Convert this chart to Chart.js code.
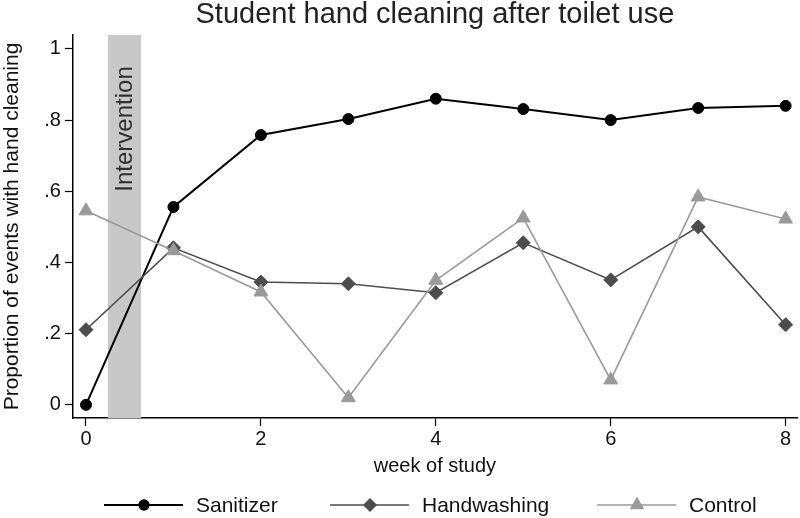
<!DOCTYPE html>
<html>
<head>
<meta charset="utf-8">
<script src="https://cdn.jsdelivr.net/npm/chart.js@4"></script>
<style>
  html, body { margin: 0; padding: 0; background: #fff; }
  #wrap { width: 800px; height: 518px; }
</style>
</head>
<body>
<div id="wrap"><canvas id="chart" width="800" height="518"></canvas></div>
<script>
const weeks = [0, 1, 2, 3, 4, 5, 6, 7, 8];
const sanitizer = [0, 0.556, 0.758, 0.803, 0.86, 0.831, 0.8, 0.834, 0.84];
const handwashing = [0.211, 0.441, 0.345, 0.34, 0.315, 0.455, 0.351, 0.5, 0.225];
const control = [0.545, 0.433, 0.317, 0.02, 0.35, 0.525, 0.07, 0.584, 0.522];
const seriesNames = ["Sanitizer", "Handwashing", "Control"];
const xTicks = [0, 2, 4, 6, 8];
const yTicks = [0, 0.2, 0.4, 0.6, 0.8, 1];
const yTickLabels = ["0", ".2", ".4", ".6", ".8", "1"];
const interventionStart = 0.25;
const interventionEnd = 0.63;
const interventionLabel = "Intervention";

const FONT = "'Liberation Sans', Arial, Helvetica, sans-serif";
const toPoints = (vals) => weeks.map((w, i) => ({ x: w, y: vals[i] }));

// grey band + rotated label behind the lines
const interventionBand = {
  id: "interventionBand",
  beforeDatasetsDraw(chart) {
    const { ctx, chartArea, scales } = chart;
    const x0 = scales.x.getPixelForValue(interventionStart);
    const x1 = scales.x.getPixelForValue(interventionEnd);
    ctx.save();
    ctx.fillStyle = "#c8c8c8";
    ctx.fillRect(x0, chartArea.top, x1 - x0, chartArea.bottom - chartArea.top);
    ctx.translate((x0 + x1) / 2, scales.y.getPixelForValue(0.775));
    ctx.rotate(-Math.PI / 2);
    ctx.fillStyle = "#2e2e2e";
    ctx.font = "24px " + FONT;
    ctx.textAlign = "center";
    ctx.textBaseline = "middle";
    ctx.fillText(interventionLabel, 0, 1);
    ctx.restore();
  }
};

// stata-style legend: line with marker in the middle, in series order
const lineLegend = {
  id: "lineLegend",
  afterDraw(chart) {
    const { ctx } = chart;
    const starts = [104, 330, 597];
    const y = 505;
    ctx.save();
    seriesNames.forEach((name, i) => {
      const ds = chart.data.datasets.find(d => d.label === name);
      const lx = starts[i];
      ctx.strokeStyle = ds.borderColor;
      ctx.lineWidth = ds.borderWidth;
      ctx.beginPath();
      ctx.moveTo(lx, y);
      ctx.lineTo(lx + 79, y);
      ctx.stroke();
      ctx.fillStyle = ds.pointBackgroundColor;
      ctx.strokeStyle = ds.pointBackgroundColor;
      Chart.helpers.drawPoint(ctx, {
        pointStyle: ds.pointStyle,
        radius: ds.pointRadius * 0.85,
        rotation: 0,
        borderWidth: 1
      }, lx + 40, y);
      ctx.fillStyle = "#111";
      ctx.font = "21px " + FONT;
      ctx.textAlign = "left";
      ctx.textBaseline = "middle";
      ctx.fillText(name, lx + 92, y + 1);
    });
    ctx.restore();
  }
};

// control drawn first, sanitizer on top
new Chart(document.getElementById("chart"), {
  type: "line",
  data: {
    datasets: [
      {
        label: seriesNames[2],
        data: toPoints(control),
        borderColor: "#9a9a9a",
        borderWidth: 1.6,
        pointStyle: "triangle",
        pointRadius: 8,
        pointBackgroundColor: "#9a9a9a",
        pointBorderColor: "#9a9a9a",
        pointBorderWidth: 1
      },
      {
        label: seriesNames[1],
        data: toPoints(handwashing),
        borderColor: "#4d4d4d",
        borderWidth: 1.6,
        pointStyle: "rectRot",
        pointRadius: 7,
        pointBackgroundColor: "#4d4d4d",
        pointBorderColor: "#4d4d4d",
        pointBorderWidth: 1
      },
      {
        label: seriesNames[0],
        data: toPoints(sanitizer),
        borderColor: "#000",
        borderWidth: 2,
        pointStyle: "circle",
        pointRadius: 5.5,
        pointBackgroundColor: "#000",
        pointBorderColor: "#000",
        pointBorderWidth: 1
      }
    ]
  },
  options: {
    responsive: false,
    animation: false,
    devicePixelRatio: 1,
    layout: { autoPadding: false, padding: { top: 0, left: 0, right: 3, bottom: 40 } },
    plugins: {
      legend: { display: false },
      tooltip: { enabled: false },
      title: {
        display: true,
        fullSize: false,
        text: "Student hand cleaning after toilet use",
        color: "#222",
        font: { family: FONT, size: 29, weight: "normal", lineHeight: 1.0 },
        padding: { top: 0, bottom: 6 }
      }
    },
    scales: {
      x: {
        type: "linear",
        min: -0.15,
        max: 8.13,
        afterBuildTicks: (axis) => { axis.ticks = xTicks.map(v => ({ value: v })); },
        ticks: {
          color: "#111",
          font: { family: FONT, size: 20 },
          padding: 1,
          callback: (v) => String(v)
        },
        grid: { display: true, drawOnChartArea: false, drawTicks: true, tickLength: 8, color: "#000", tickWidth: 1.2 },
        border: { display: true, color: "#000", width: 1.5 },
        title: {
          display: true,
          text: "week of study",
          color: "#111",
          font: { family: FONT, size: 20 },
          padding: { top: 2, bottom: 0 }
        }
      },
      y: {
        type: "linear",
        min: -0.037,
        max: 1.039,
        afterBuildTicks: (axis) => { axis.ticks = yTicks.map(v => ({ value: v })); },
        ticks: {
          color: "#111",
          font: { family: FONT, size: 20 },
          padding: 4,
          callback: (v) => {
            const i = yTicks.findIndex(t => Math.abs(t - v) < 1e-9);
            return i >= 0 ? yTickLabels[i] : "";
          }
        },
        grid: { display: true, drawOnChartArea: false, drawTicks: true, tickLength: 8, color: "#000", tickWidth: 1.2 },
        border: { display: true, color: "#000", width: 1.5 },
        title: {
          display: true,
          text: "Proportion of events with hand cleaning",
          color: "#111",
          font: { family: FONT, size: 21 },
          padding: { top: 0, bottom: 15 }
        }
      }
    }
  },
  plugins: [interventionBand, lineLegend]
});
</script>
</body>
</html>
